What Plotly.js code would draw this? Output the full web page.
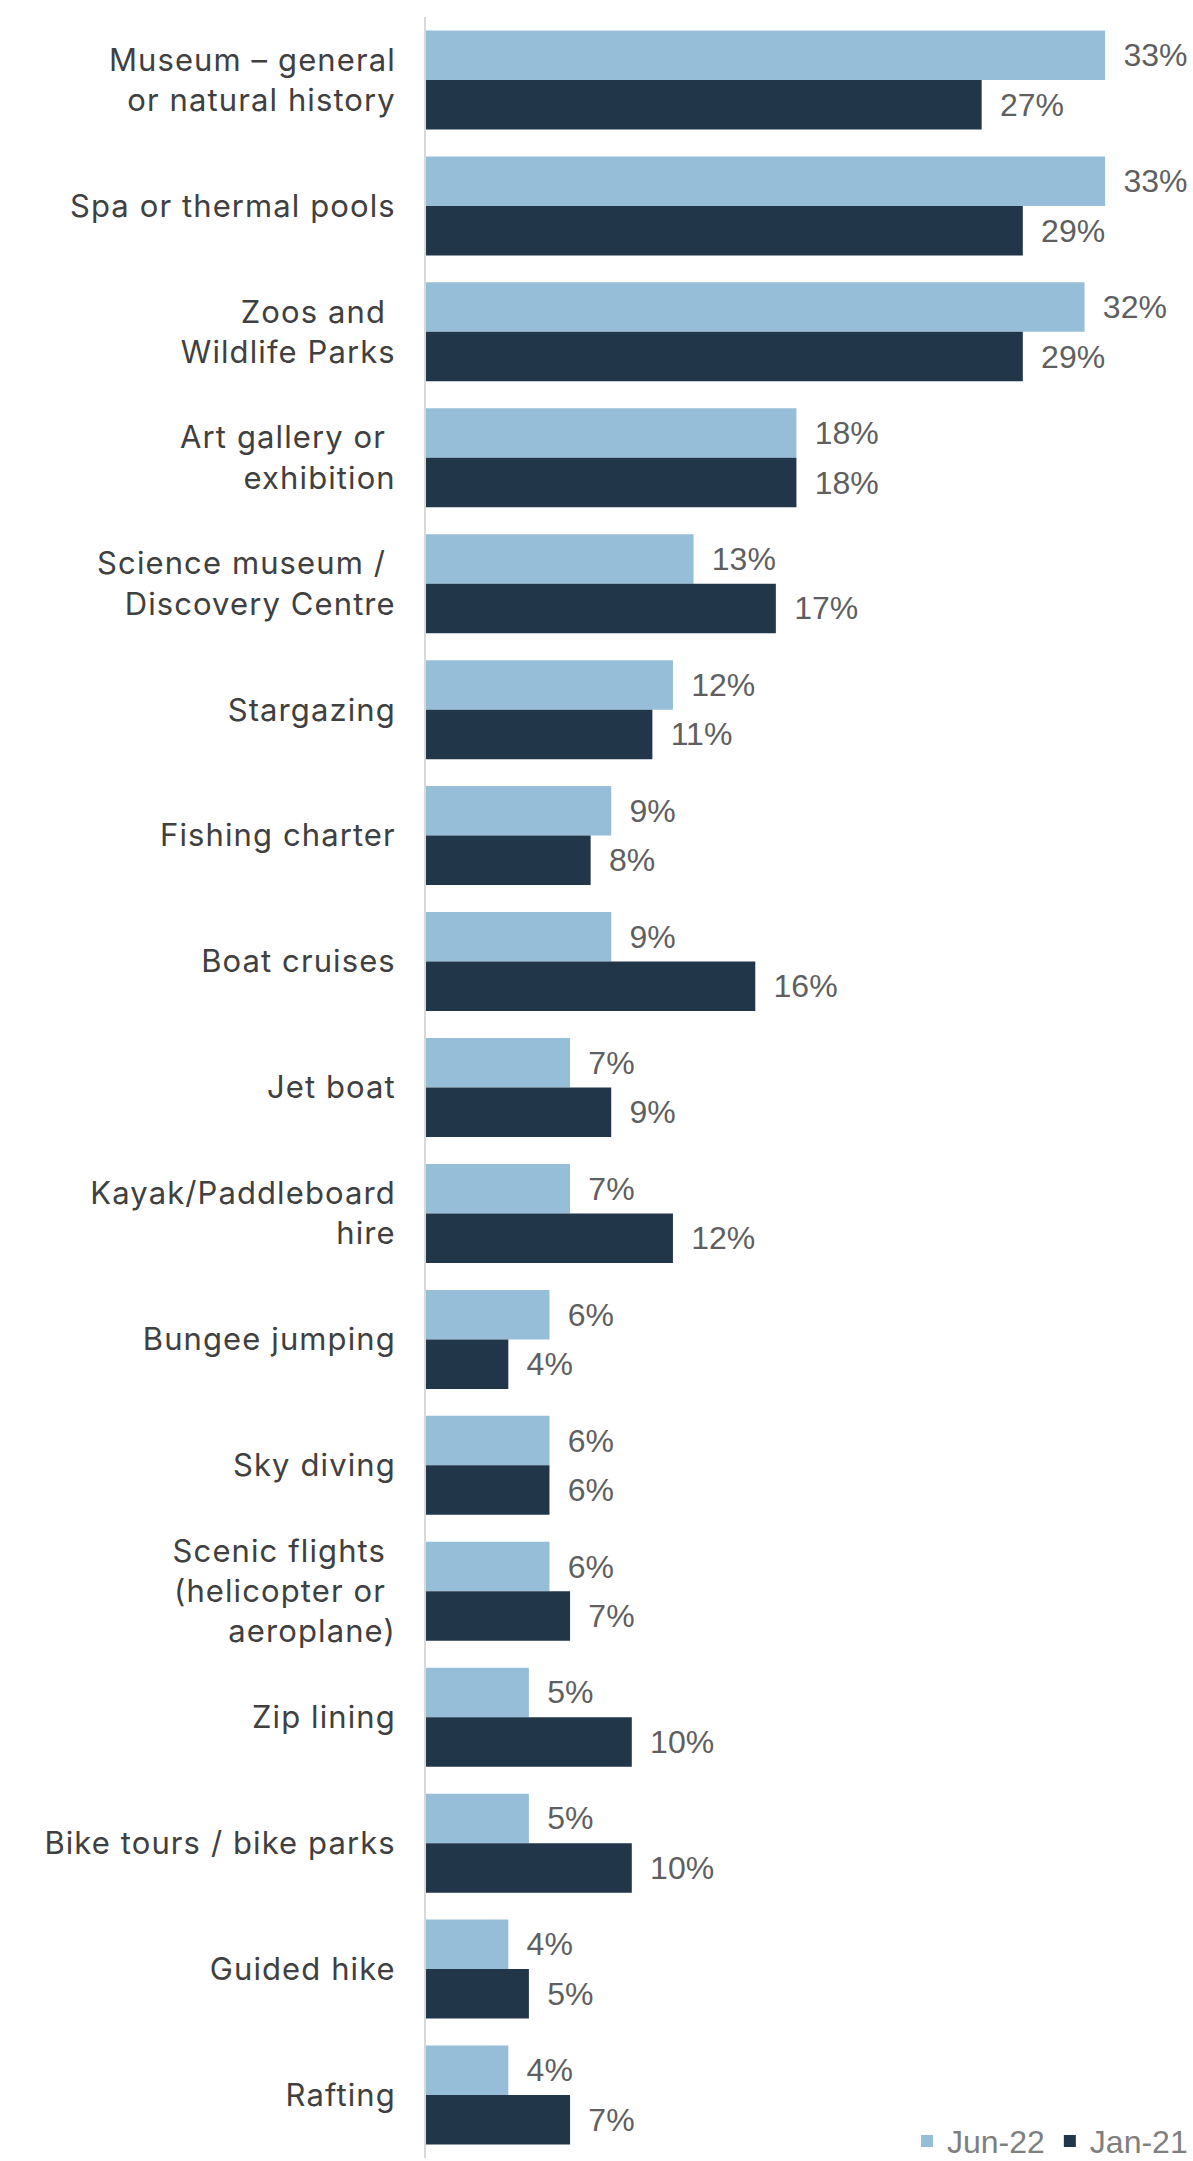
<!DOCTYPE html>
<html>
<head>
<meta charset="utf-8">
<script src="https://cdn.plot.ly/plotly-3.0.1.min.js"></script>
<style>
  html, body { margin: 0; padding: 0; background: #ffffff; }
  #chart { width: 1193px; height: 2161px; }
  #chart .ytick text { letter-spacing: 1.1px; }
</style>
</head>
<body>
<div id="chart"></div>
<script>
const NB = '\u00a0';
const categories = [
  'Museum – general<br>or natural history',
  'Spa or thermal pools',
  'Zoos and' + NB + '<br>Wildlife Parks',
  'Art gallery or' + NB + '<br>exhibition',
  'Science museum /' + NB + '<br>Discovery Centre',
  'Stargazing',
  'Fishing charter',
  'Boat cruises',
  'Jet boat',
  'Kayak/Paddleboard<br>hire',
  'Bungee jumping',
  'Sky diving',
  'Scenic flights' + NB + '<br>(helicopter or' + NB + '<br>aeroplane)',
  'Zip lining',
  'Bike tours / bike parks',
  'Guided hike',
  'Rafting'
];
const jun22 = [33, 33, 32, 18, 13, 12, 9, 9, 7, 7, 6, 6, 6, 5, 5, 4, 4];
const jan21 = [27, 29, 29, 18, 17, 11, 8, 16, 9, 12, 4, 6, 7, 10, 10, 5, 7];
const seriesNames = ['Jun-22', 'Jan-21'];
const seriesColors = ['#97bed9', '#223649'];

const labelFont = { family: 'Liberation Sans, Arial, sans-serif', size: 32, color: '#5f5f5f' };

function barTrace(vals, i) {
  return {
    type: 'bar',
    orientation: 'h',
    name: seriesNames[i],
    y: categories,
    x: vals,
    marker: { color: seriesColors[i], line: { width: 0 } },
    text: vals.map(v => NB + '\u2009' + v + '%'),
    textposition: 'outside',
    textfont: labelFont,
    constraintext: 'none',
    cliponaxis: false,
    hoverinfo: 'skip'
  };
}

const data = [barTrace(jun22, 0), barTrace(jan21, 1)];

const layout = {
  width: 1193,
  height: 2161,
  margin: { l: 426, r: 0, t: 17, b: 3, pad: 0, autoexpand: false },
  paper_bgcolor: '#ffffff',
  plot_bgcolor: '#ffffff',
  barmode: 'group',
  bargap: 0.214,
  bargroupgap: 0,
  showlegend: true,
  legend: {
    orientation: 'h',
    x: 1, xanchor: 'right',
    y: -0.005, yanchor: 'bottom',
    font: { family: 'Liberation Sans, Arial, sans-serif', size: 32, color: '#7f7f7f' },
    itemwidth: 30,
    traceorder: 'normal',
    bgcolor: 'rgba(0,0,0,0)'
  },
  xaxis: {
    visible: false,
    range: [0, 37.27],
    showgrid: false,
    zeroline: false,
    fixedrange: true
  },
  yaxis: {
    autorange: 'reversed',
    showline: true,
    linecolor: '#d9d9d9',
    linewidth: 2,
    showgrid: false,
    zeroline: false,
    ticks: '',
    ticklabelstandoff: 22,
    tickfont: { family: 'Inter, Roboto, sans-serif', size: 31, color: '#404040' },
    fixedrange: true
  }
};

Plotly.newPlot('chart', data, layout, { displayModeBar: false, staticPlot: true });
</script>
</body>
</html>
